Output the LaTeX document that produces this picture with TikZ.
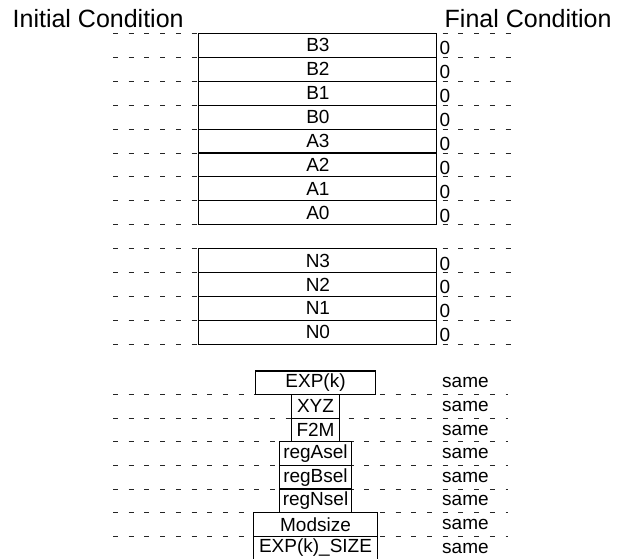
\documentclass[tikz,border=0pt]{standalone}
\usepackage{fontspec}
\setmainfont{Liberation Sans}

\tikzset{
    reg/.style={draw=black,line width=1.1pt,inner sep=0pt,minimum height=23.9pt,font=\fontsize{19}{19}\selectfont},
    flag/.style={draw=black,line width=1.1pt,inner sep=0pt,minimum height=23.6pt,font=\fontsize{19}{19}\selectfont},
    guide/.style={draw=black!85,line width=0.9pt,dash pattern=on 5pt off 10.7pt},
    zero/.style={anchor=west,inner sep=0pt,xshift=2pt,yshift=-3pt,font=\fontsize{19}{19}\selectfont},
    samelbl/.style={anchor=west,inner sep=0pt,font=\fontsize{19}{19}\selectfont},
    head/.style={anchor=base west,inner sep=0pt,font=\fontsize{25}{25}\selectfont}
}

\begin{document}
\begin{tikzpicture}[x=1pt,y=-1pt]
        \useasboundingbox (0,0) rectangle (625,558);

        \node[head] (init) at (12.5,27) {Initial Condition};
        \node[head] (final) at (444.5,27) {Final Condition};

        % guide lines
        \foreach \k in {0,...,13}
            \draw[guide] (113,33.5+\k*23.9) -- (512,33.5+\k*23.9);
        \foreach \k in {0,...,6}
            \draw[guide] (113,394.6+\k*23.6) -- (508,394.6+\k*23.6);

        % registers
        \node[reg,minimum width=238pt] (b3) at (317.9,45.45) {B3};
        \node[reg,minimum width=238pt] (b2) at (317.9,69.35) {B2};
        \node[reg,minimum width=238pt] (b1) at (317.9,93.25) {B1};
        \node[reg,minimum width=238pt] (b0) at (317.9,117.15) {B0};
        \node[reg,minimum width=238pt] (a3) at (317.9,141.05) {A3};
        \node[reg,minimum width=238pt] (a2) at (317.9,164.95) {A2};
        \node[reg,minimum width=238pt] (a1) at (317.9,188.85) {A1};
        \node[reg,minimum width=238pt] (a0) at (317.9,212.75) {A0};

        \node[reg,minimum width=238pt] (n3) at (317.9,260.55) {N3};
        \node[reg,minimum width=238pt] (n2) at (317.9,284.45) {N2};
        \node[reg,minimum width=238pt] (n1) at (317.9,308.35) {N1};
        \node[reg,minimum width=238pt] (n0) at (317.9,332.25) {N0};

        \foreach \r in {b3,b2,b1,b0,a3,a2,a1,a0,n3,n2,n1,n0}
            \node[zero] at (\r.east) {0};

        % control values
        \node[flag,minimum width=120.3pt] (expk) at (315.5,382.8) {EXP(k)};
        \node[flag,minimum width=47.6pt] (xyz) at (315.5,406.4) {XYZ};
        \node[flag,minimum width=47.6pt] (ftwom) at (315.5,430) {F2M};
        \node[flag,minimum width=72.7pt] (regasel) at (315.5,453.6) {regAsel};
        \node[flag,minimum width=72.7pt] (regbsel) at (315.5,477.2) {regBsel};
        \node[flag,minimum width=72.7pt] (regnsel) at (315.5,500.8) {regNsel};
        \node[flag,minimum width=123.4pt] (modsize) at (315.5,524.4) {Modsize};
        \node[flag,minimum width=123.4pt] (expksize) at (315.5,548) {EXP(k)\_SIZE};

        \coordinate (samecol) at (442,0);
        \foreach \r in {expk,xyz,ftwom,regasel,regbsel,regnsel,modsize,expksize}
            \node[samelbl] at (\r -| samecol) {same};
    \end{tikzpicture}
\end{document}
